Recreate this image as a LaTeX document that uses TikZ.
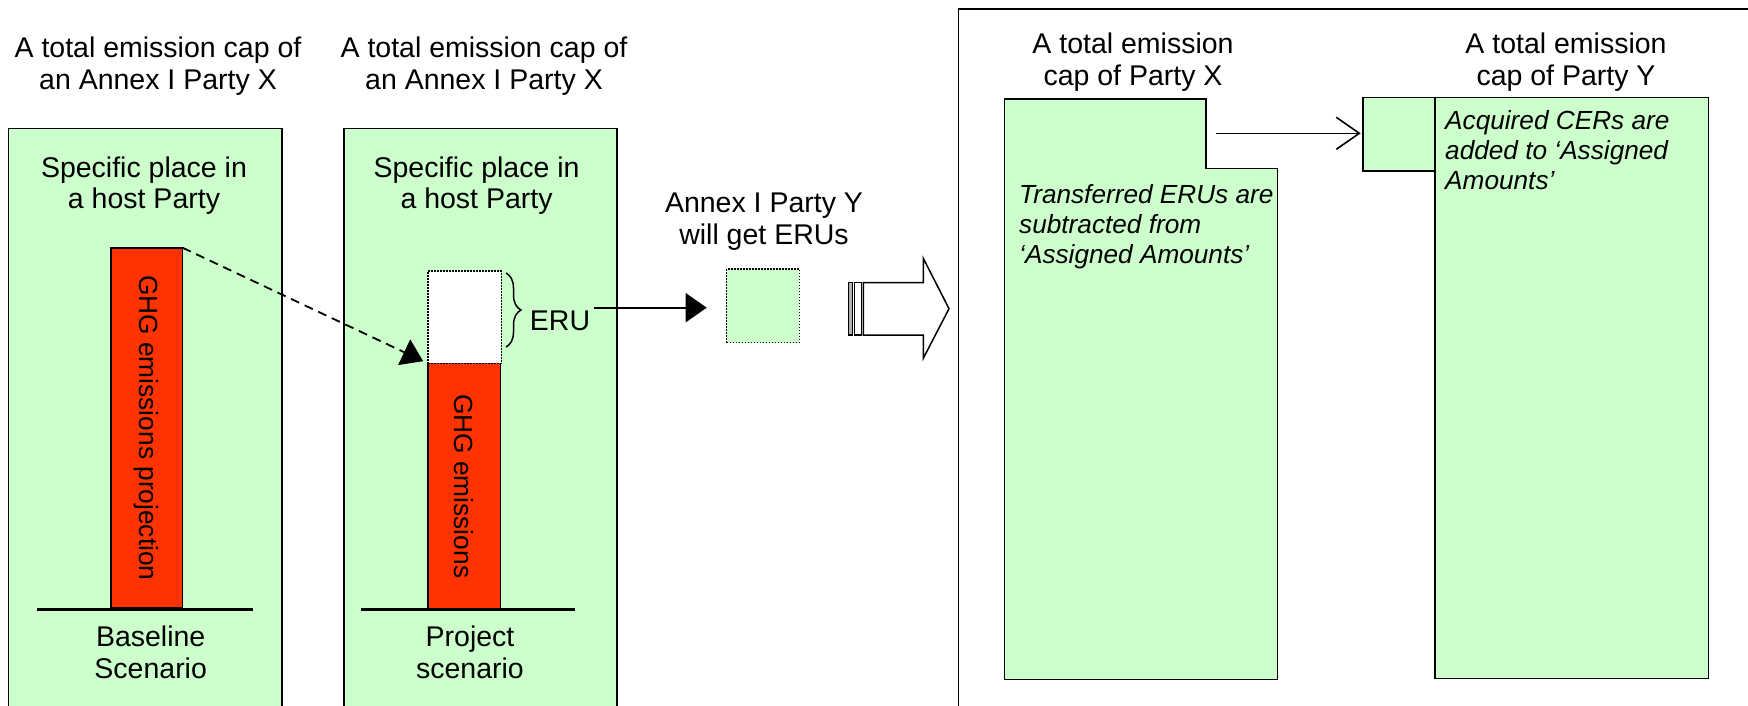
\documentclass[tikz,border=0pt]{standalone}
\usepackage{fontspec}
\setmainfont{Liberation Sans}
\usetikzlibrary{arrows.meta,decorations.pathreplacing}
\definecolor{pgreen}{HTML}{CCFFCC}
\definecolor{pred}{HTML}{FF3300}
\newcommand\ftitle{\fontsize{28.5}{31.7}\selectfont}
\newcommand\fvert{\fontsize{26.3}{30}\selectfont}
\newcommand\fital{\fontsize{26.2}{30}\selectfont\itshape}
\begin{document}
\begin{tikzpicture}[x=1pt,y=-1pt,
  panel/.style={draw, fill=pgreen, line width=1.6pt, inner sep=0pt, outer sep=0pt, anchor=north west},
  barbox/.style={fill=pred, draw=none, inner sep=0pt, outer sep=0pt, anchor=north west},
  dotbox/.style={draw, dash pattern=on 1.5pt off 1.5pt, line width=1.5pt, inner sep=0pt, outer sep=0pt, anchor=north west},
  txt/.style={inner sep=0pt, align=center, font=\ftitle},
  vtxt/.style={inner sep=0pt, font=\fvert, rotate=-90},
  itxt/.style={inner sep=0pt, align=left, font=\fital, anchor=west},
  ground/.style={line width=3pt},
  solidline/.style={line width=1.6pt}
]
\useasboundingbox (0,0) rectangle (1748,705);

% titles
\node[txt] (t1) at (158,66) {A total emission cap of\\an Annex I Party X};
\node[txt] (t2) at (484,66) {A total emission cap of\\an Annex I Party X};

% panels
\node[panel, minimum width=273.2pt, minimum height=600pt] (p1) at (8.5,128.3) {};
\node[panel, minimum width=273pt, minimum height=600pt] (p2) at (344,128.3) {};

\node[txt] (s1) at (144,185.5) {Specific place in\\a host Party};
\node[txt] (s2) at (476.6,185.5) {Specific place in\\a host Party};

% bar 1
\node[barbox, draw, line width=1.6pt, minimum width=71.7pt, minimum height=360.3pt] (b1) at (110.8,247.7) {};
\node[vtxt] at (b1.center) {GHG emissions projection};
\draw[ground] (37,609) -- (252.6,609);
\node[txt] (bl) at (150.7,652) {Baseline\\Scenario};

% bar 2
\node[barbox, minimum width=72.9pt, minimum height=245.7pt] (b2) at (427.7,363.3) {};
\draw[solidline] (b2.north west) -- (b2.south west) -- (b2.south east) -- (b2.north east);
\node[dotbox, fill=white, minimum width=73.3pt, minimum height=92.3pt] (w2) at (428,271) {};
\node[vtxt] at (b2.center) {GHG emissions};
\draw[ground] (360.5,609) -- (575,609);
\node[txt] (pj) at (470,652) {Project\\scenario};

% dashed arrow
\draw[line width=1.8pt, dash pattern=on 9pt off 6pt, -{Triangle[length=21pt,width=28pt]}, shorten >=5pt]
  (b1.north east) -- (b2.north west);

% brace + ERU
\coordinate (br1) at (506,273);
\coordinate (br2) at (506,347);
\draw[decorate, decoration={brace, amplitude=15pt}, line width=1.5pt] (br1) -- (br2);
\node[txt] (eru) at (560,321) {ERU};

% Party Y will get ERUs
\node[txt] (py) at (764,221.5) {Annex I Party Y\\will get ERUs};
\node[dotbox, fill=pgreen, minimum width=72.6pt, minimum height=73.7pt] (sq) at (726.7,269) {};
\coordinate (e0) at (594,307.7);
\draw[line width=1.8pt, -{Triangle[length=21pt,width=29pt]}, shorten >=20pt] (e0) -- (e0 -| sq.west);

% block arrow
\draw[line width=1.2pt, fill=gray!60] (848.3,282.7) rectangle (852.3,335);
\draw[line width=1.2pt, fill=white] (854.7,282.7) rectangle (861.7,335);
\draw[line width=1.5pt, fill=white, line join=miter] (863.3,282.7) -- (923.3,282.7) -- (923.3,258.3) -- (949,308.7)
  -- (923.3,358.3) -- (923.3,335) -- (863.3,335) -- cycle;

% right panel
\draw[line width=1.6pt] (1760,9) -- (958.5,9) -- (958.5,720);
\node[txt] (tx) at (1133,62) {A total emission\\cap of Party X};
\node[txt] (ty) at (1566,62) {A total emission\\cap of Party Y};

\draw[line width=1.6pt, fill=pgreen] (1004.3,99) -- (1205.7,99) -- (1205.7,168.3) -- (1277.3,168.3)
  -- (1277.3,679.3) -- (1004.3,679.3) -- cycle;
\node[itxt] (ix) at (1019,227) {Transferred ERUs are\\subtracted from\\‘Assigned Amounts’};

\node[panel, minimum width=72.3pt, minimum height=73.7pt] (ysm) at (1362.7,97.3) {};
\node[panel, minimum width=273.3pt, minimum height=581pt] (ybig) at (1435,97.3) {};
\node[itxt] (iy) at (1445,150) {Acquired CERs are\\added to ‘Assigned\\Amounts’};

\coordinate (xa) at (1216,133.3);
\draw[line width=1.6pt, -{Straight Barb[length=23pt,width=32pt]}, shorten >=2pt] (xa) -- (xa -| ysm.west);
\end{tikzpicture}
\end{document}
